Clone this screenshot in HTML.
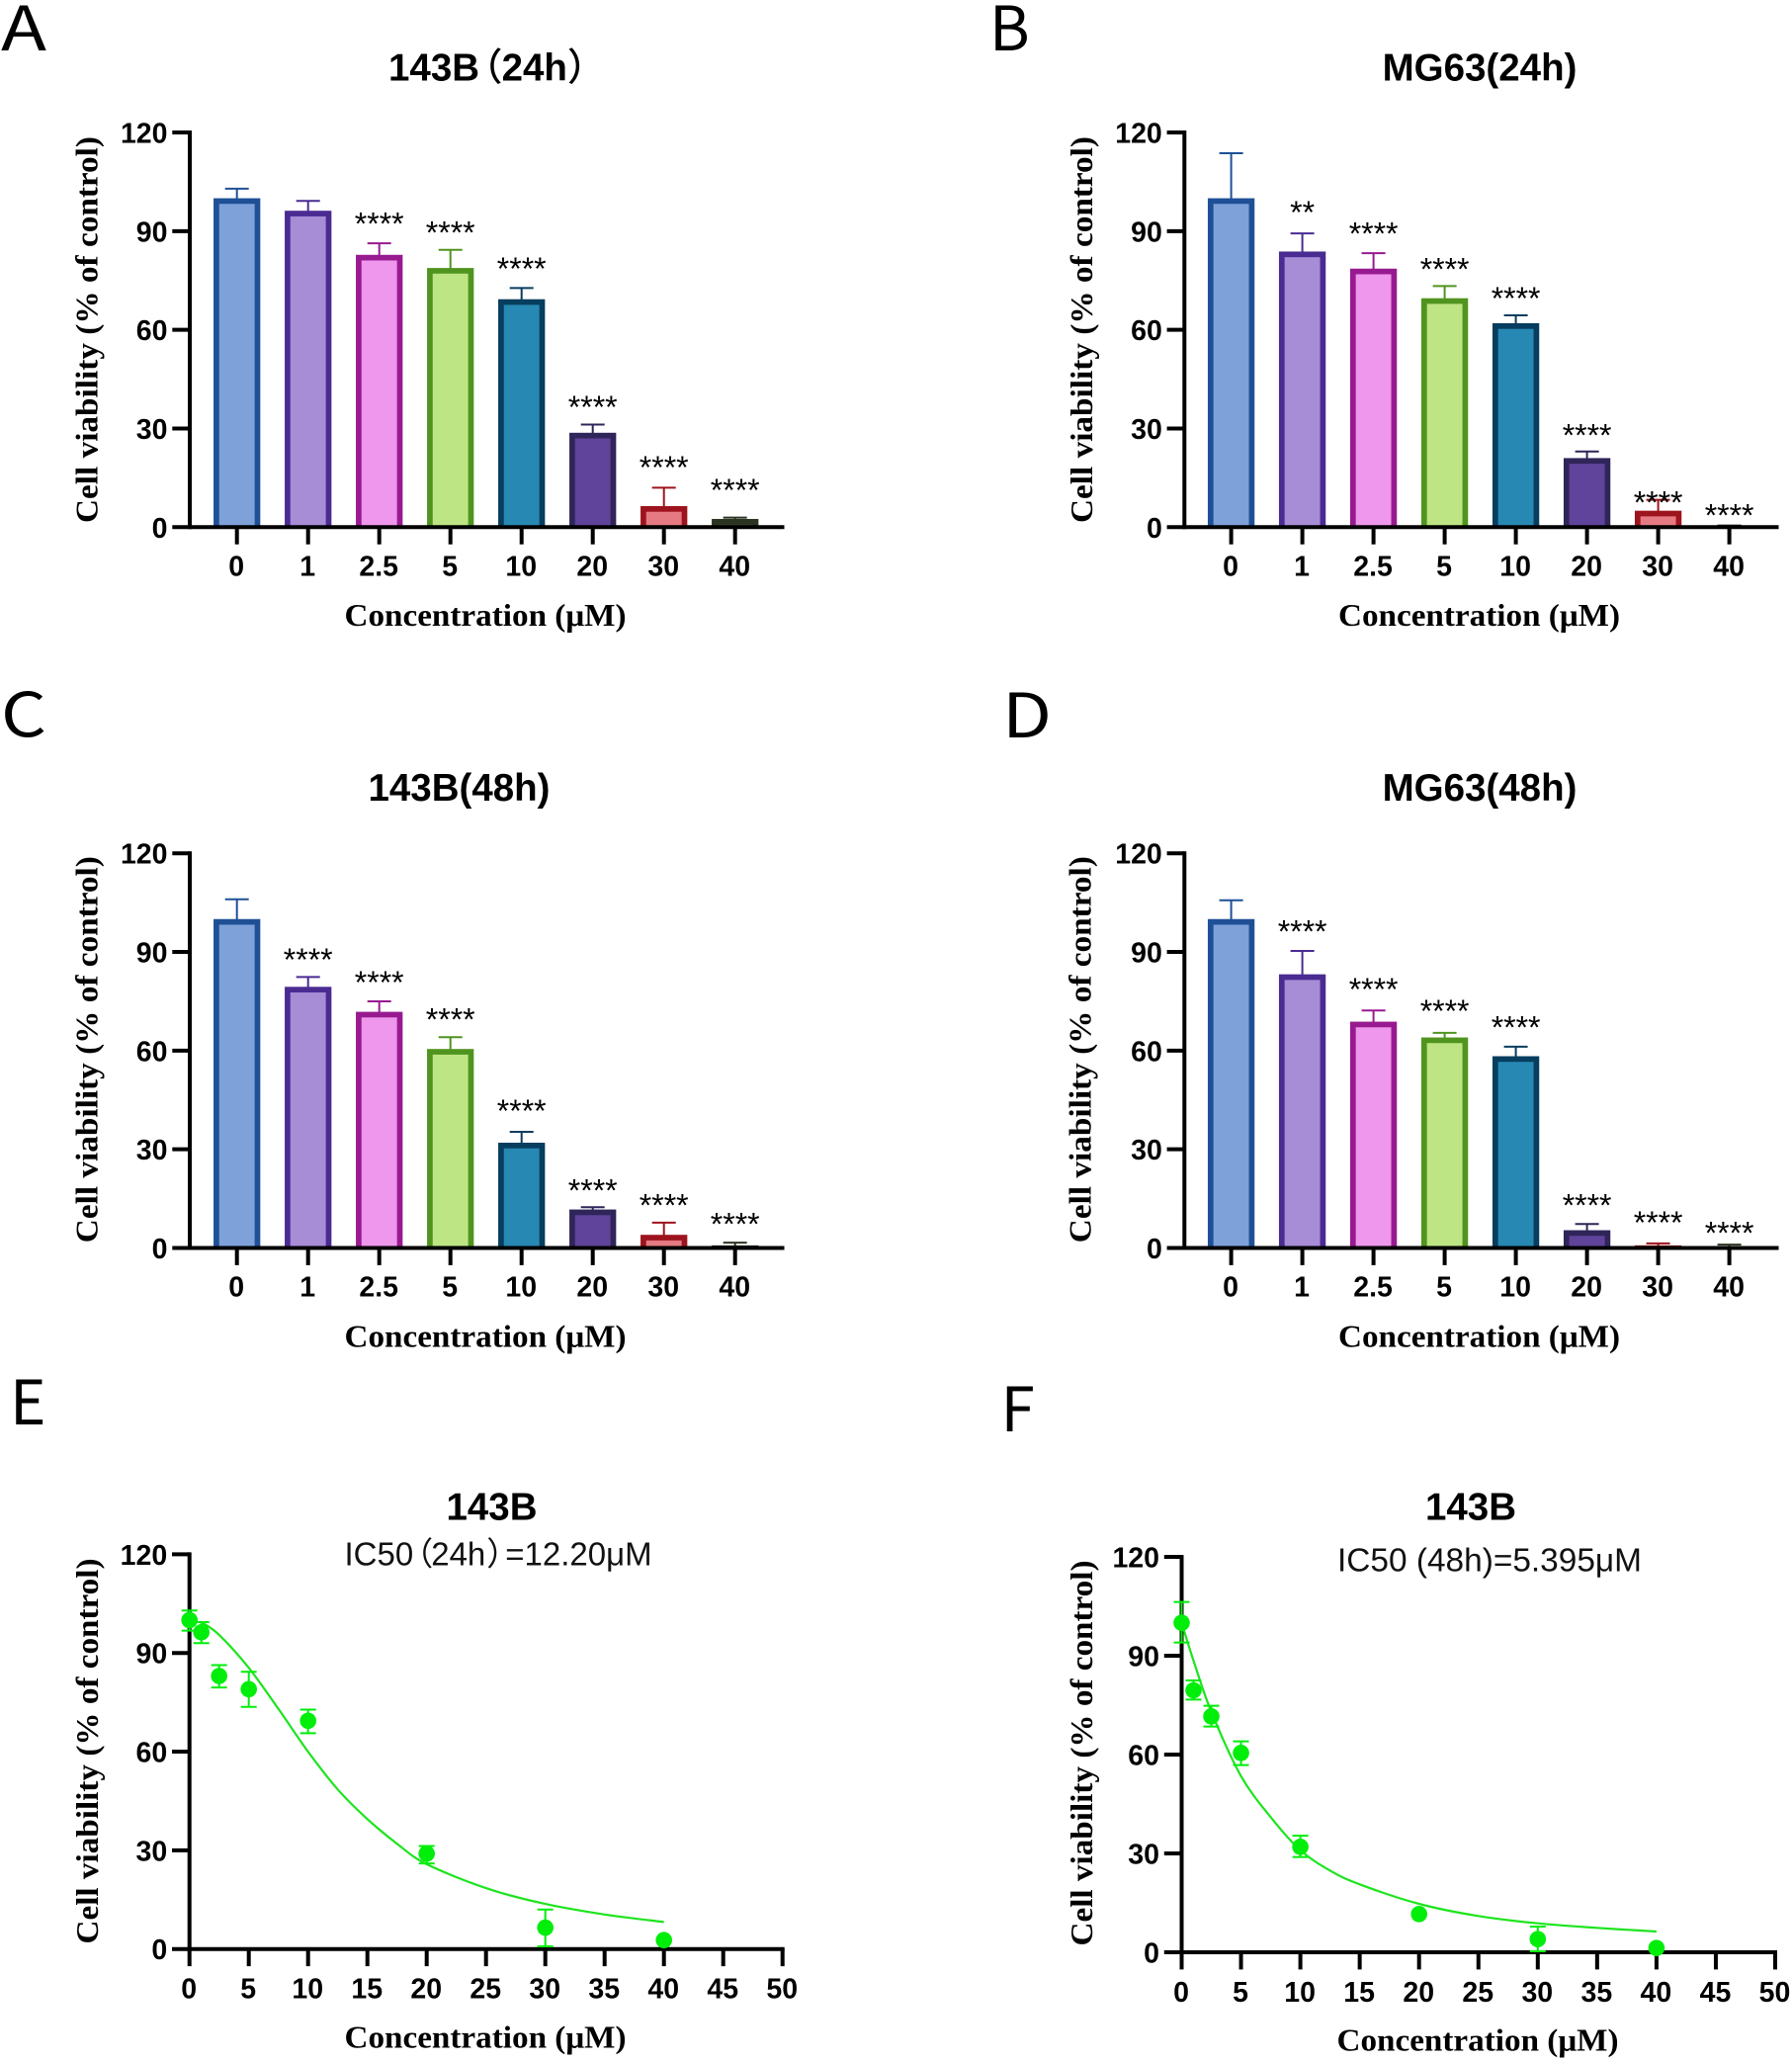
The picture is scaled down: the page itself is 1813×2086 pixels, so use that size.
<!DOCTYPE html>
<html lang="en">
<head>
<meta charset="utf-8">
<title>Cell viability panels</title>
<style>
html,body{margin:0;padding:0;background:#fff;}
svg{display:block;}
.letter{font-family:"Noto Sans CJK SC","Liberation Sans",sans-serif;font-size:62px;fill:#000;}
.title{font-family:"Liberation Sans","Noto Sans CJK SC",sans-serif;font-weight:bold;font-size:38.5px;fill:#000;text-anchor:middle;}
.sub{font-family:"Liberation Sans","Noto Sans CJK SC",sans-serif;font-size:33px;fill:#111;}
.axt{font-family:"Liberation Serif",serif;font-weight:bold;font-size:32px;fill:#000;text-anchor:middle;}
.tick{font-family:"Liberation Sans",sans-serif;font-weight:bold;font-size:28.5px;fill:#000;}
.star{font-family:"Liberation Sans",sans-serif;font-size:32px;fill:#000;text-anchor:middle;}
</style>
</head>
<body>
<svg id="fig" xmlns="http://www.w3.org/2000/svg" width="1813" height="2086" viewBox="0 0 1813 2086">
<rect width="1813" height="2086" fill="#fff"/>

<g id="panel-a">
 <text class="letter" x="1" y="50.8" textLength="46" lengthAdjust="spacingAndGlyphs">A</text>
 <text class="title" x="393" y="81.5" style="text-anchor:start">143B<tspan font-weight="500" dx="-15">（</tspan><tspan dx="-1">24h</tspan><tspan font-weight="500">）</tspan></text>
 <text class="axt" x="491" y="632.8" textLength="285" lengthAdjust="spacingAndGlyphs">Concentration (μM)</text>
 <text class="axt" transform="translate(98.5,333.5) rotate(-90)" textLength="391" lengthAdjust="spacingAndGlyphs">Cell viability (% of control)</text>
</g>
<g id="panel-b">
 <text class="letter" x="1001" y="50.8">B</text>
 <text class="title" x="1497" y="81.5">MG63(24h)</text>
 <text class="axt" x="1496.5" y="632.8" textLength="285" lengthAdjust="spacingAndGlyphs">Concentration (μM)</text>
 <text class="axt" transform="translate(1105,333.5) rotate(-90)" textLength="391" lengthAdjust="spacingAndGlyphs">Cell viability (% of control)</text>
</g>
<g id="panel-c">
 <text class="letter" x="1" y="745" textLength="46" lengthAdjust="spacingAndGlyphs">C</text>
 <text class="title" x="464.5" y="810">143B(48h)</text>
 <text class="axt" x="491" y="1362.5" textLength="285" lengthAdjust="spacingAndGlyphs">Concentration (μM)</text>
 <text class="axt" transform="translate(98.5,1061.7) rotate(-90)" textLength="391" lengthAdjust="spacingAndGlyphs">Cell viability (% of control)</text>
</g>
<g id="panel-d">
 <text class="letter" x="1014" y="746" textLength="50" lengthAdjust="spacingAndGlyphs">D</text>
 <text class="title" x="1497" y="810">MG63(48h)</text>
 <text class="axt" x="1496.5" y="1362.5" textLength="285" lengthAdjust="spacingAndGlyphs">Concentration (μM)</text>
 <text class="axt" transform="translate(1103.5,1061.7) rotate(-90)" textLength="391" lengthAdjust="spacingAndGlyphs">Cell viability (% of control)</text>
</g>
<g id="panel-e">
 <text class="letter" x="10" y="1441">E</text>
 <text class="title" x="497.5" y="1537.5">143B</text>
 <text class="sub" x="348.5" y="1583.5">IC50<tspan dx="-13">（</tspan><tspan dx="-2">24h</tspan><tspan dx="1">）</tspan><tspan dx="-14">=12.20μM</tspan></text>
 <text class="axt" x="491" y="2071.5" textLength="285" lengthAdjust="spacingAndGlyphs">Concentration (μM)</text>
 <text class="axt" transform="translate(99,1771.5) rotate(-90)" textLength="390" lengthAdjust="spacingAndGlyphs">Cell viability (% of control)</text>
</g>
<g id="panel-f">
 <text class="letter" x="1012.5" y="1448">F</text>
 <text class="title" x="1488" y="1537.5">143B</text>
 <text class="sub" x="1353" y="1589.5" textLength="308" lengthAdjust="spacingAndGlyphs">IC50 (48h)=5.395μM</text>
 <text class="axt" x="1495" y="2074.5" textLength="285" lengthAdjust="spacingAndGlyphs">Concentration (μM)</text>
 <text class="axt" transform="translate(1105,1773.5) rotate(-90)" textLength="390" lengthAdjust="spacingAndGlyphs">Cell viability (% of control)</text>
</g>
</svg>

<script>
// Shared axis data
const categories = ['0','1','2.5','5','10','20','30','40'];
const yTicks = [0,30,60,90,120];
const xTicksNum = [0,5,10,15,20,25,30,35,40,45,50];

// Panel A: 143B 24h
const aValues = [100,96.2,82.8,78.8,69.3,28.7,6.4,2.5];
const aErrTop = [102.9,99.2,86.3,84.3,72.7,31.2,12,2.9];
const aStars = ['','','****','****','****','****','****','****'];
const aStarGap = [0,0,7.2,6.6,7.2,6.6,7.5,9.7];

// Panel B: MG63 24h
const bValues = [100,83.8,78.6,69.6,62,21,5,0.3];
const bErrTop = [113.7,89.3,83.3,73.3,64.4,23,8.3,0.5];
const bStars = ['','**','****','****','****','****','****','****'];
const bStarGap = [0,7.7,7.3,6.5,6.4,6.2,0.5,4.4];

// Panel C: 143B 48h
const cValues = [100,79.4,71.8,60.5,32,11.7,4,0.8];
const cErrTop = [106,82.4,75,64.1,35.3,12.4,7.7,1.6];
const cStars = ['','****','****','****','****','****','****','****'];
const cStarGap = [0,6.6,7,6.6,7.7,6.4,6.6,6.9];

// Panel D: MG63 48h
const dValues = [100,83.2,68.8,64,58.3,5.4,0.8,0.6];
const dErrTop = [105.7,90.3,72.2,65.4,61.2,7.3,1.4,1];
const dStars = ['','****','****','****','****','****','****','****'];
const dStarGap = [0,7.2,7.8,7.9,7.2,6.9,7.6,4.9];

// Panel E: dose response 24h
const eDose = [0,1,2.5,5,10,20,30,40];
const eMean = [100,96.3,83,79,69.4,29,6.5,2.7];
const eHigh = [102.9,99.4,86.3,84.3,72.8,31.3,12,2.9];
const eLow = [96.8,93,79.5,73.6,65.6,26,0.8,2.5];
const eFitX = [1,2.5,5,7.5,10,12.5,15,17.5,20,25,30,35,40];
const eFitY = [99.4,95.5,85.5,73,60,48.5,39.5,32,25.8,18.5,13.7,10.5,8.2];

// Panel F: dose response 48h
const fDose = [0,1,2.5,5,10,20,30,40];
const fMean = [100,79.5,71.6,60.5,32,11.6,4,1.3];
const fHigh = [106.3,82.5,74.8,64,35.4,11.9,7.8,1.5];
const fLow = [94,76.7,68.5,56.8,28.9,11.3,0.3,1.1];
const fFitX = [0,1,2.5,5,7.5,10,12.5,15,20,25,30,35,40];
const fFitY = [100,88.5,73,53.5,41,31,24.8,20.6,14.7,11,8.8,7.4,6.3];

// Bar style table
const barFill = ['#7ea1d9','#a78cd6','#ee97ec','#bde584','#2788b3','#60439a','#e57a82','#3a4a2e'];
const barEdge = ['#1f5096','#4a2b92','#981a90','#50941f','#073d5e','#2f2558','#9d141e','#2b3421'];

const NS = 'http://www.w3.org/2000/svg';
function mk(parent, tag, props, txt){
  const el = document.createElementNS(NS, tag);
  for (const k in props) el.setAttribute(k, props[k]);
  if (txt !== undefined) el.textContent = txt;
  parent.appendChild(el);
  return el;
}
function yScale(y0, y120){ return v => y0 + (y120 - y0) * v / 120; }

function drawYAxis(g, ax, y, key){
  const spine = mk(g,'line',{x1:ax,x2:ax,y1:y(120)-2,y2:y(0)+2,stroke:'#000','stroke-width':4});
  
  
  yTicks.forEach(t => {
    const tk = mk(g,'line',{x1:ax-17.7,x2:ax,y1:y(t),y2:y(t),stroke:'#000','stroke-width':4});
    
    
    const lb = mk(g,'text',{class:'tick',x:ax-22.5,y:y(t)+10.5,'text-anchor':'end'},String(t));
    
    
  });
}

function drawBars(key, ax, xFirst, step, xEnd, y0, y120, values, errTop, stars, starGap){
  const g = document.getElementById('panel-' + key);
  const y = yScale(y0, y120);
  const bw = 47.3, bd = 5.7;
  const bandX = i => xFirst + step * i;
  categories.forEach((c, i) => {
    const cx = bandX(i), top = y(values[i]), h = y0 - top, ey = y(errTop[i]);
    const stem = mk(g,'line',{x1:cx,x2:cx,y1:top+1,y2:ey,stroke:barEdge[i],'stroke-width':2});
    
    
    const cap = mk(g,'line',{x1:cx-12,x2:cx+12,y1:ey,y2:ey,stroke:barEdge[i],'stroke-width':2});
    
    
    const outer = mk(g,'rect',{x:cx-bw/2,y:top,width:bw,height:h,fill:barEdge[i]});
    
    
    if (h > bd) {
      const inner = mk(g,'rect',{x:cx-bw/2+bd,y:top+bd,width:bw-2*bd,height:h-bd,fill:barFill[i]});
      
      
    }
    if (stars[i]) {
      const sy = y(errTop[i] + starGap[i]);
      const st = mk(g,'text',{class:'star',x:cx,y:sy+15.5},stars[i]);
      
      
    }
    const tk = mk(g,'line',{x1:cx,x2:cx,y1:y0,y2:y0+17.4,stroke:'#000','stroke-width':4});
    
    
    const lb = mk(g,'text',{class:'tick',x:cx-0.5,y:y0+49,'text-anchor':'middle'},c);
    
    
  });
  const base = mk(g,'line',{x1:ax,x2:xEnd,y1:y0,y2:y0,stroke:'#000','stroke-width':4});
  
  
  drawYAxis(g, ax, y, key);
}

function smoothPath(px){
  let d = 'M' + px[0][0].toFixed(1) + ' ' + px[0][1].toFixed(1);
  for (let i = 0; i < px.length - 1; i++){
    const p0 = px[Math.max(i-1,0)], p1 = px[i], p2 = px[i+1], p3 = px[Math.min(i+2,px.length-1)];
    const c1 = [p1[0]+(p2[0]-p0[0])/6, p1[1]+(p2[1]-p0[1])/6];
    const c2 = [p2[0]-(p3[0]-p1[0])/6, p2[1]-(p3[1]-p1[1])/6];
    d += ' C' + c1[0].toFixed(1)+' '+c1[1].toFixed(1)+' '+c2[0].toFixed(1)+' '+c2[1].toFixed(1)+' '+p2[0].toFixed(1)+' '+p2[1].toFixed(1);
  }
  return d;
}

function drawCurve(key, ax, xMax, y0, y120, dose, mean, high, low, fitX, fitY){
  const g = document.getElementById('panel-' + key);
  const y = yScale(y0, y120);
  const x = v => ax + (xMax - ax) * v / 50;
  const green = '#00ee0a';
  xTicksNum.forEach(t => {
    const tk = mk(g,'line',{x1:x(t),x2:x(t),y1:y0,y2:y0+17.4,stroke:'#000','stroke-width':4});
    
    
    const lb = mk(g,'text',{class:'tick',x:x(t)-0.5,y:y0+50,'text-anchor':'middle'},String(t));
    
    
  });
  const base = mk(g,'line',{x1:ax,x2:xMax+2,y1:y0,y2:y0,stroke:'#000','stroke-width':4});
  
  
  drawYAxis(g, ax, y, key);
  const fit = mk(g,'path',{d:smoothPath(fitX.map((v,i)=>[x(v),y(fitY[i])])),fill:'none',stroke:'#1ee41e','stroke-width':2.2});
  
  
  dose.forEach((d,i) => {
    const cx = x(d);
    if (high[i] - low[i] > 1) {
      const er = mk(g,'path',{d:'M'+(cx-8)+' '+y(high[i])+'H'+(cx+8)+'M'+cx+' '+y(high[i])+'V'+y(low[i])+'M'+(cx-8)+' '+y(low[i])+'H'+(cx+8),fill:'none',stroke:green,'stroke-width':2});
      
      
    }
    const dot = mk(g,'circle',{cx:cx,cy:y(mean[i]),r:8.3,fill:green});
    
    
  });
}

drawBars('a', 192, 239.7, 72, 793.5, 533.3, 134, aValues, aErrTop, aStars, aStarGap);
drawBars('b', 1198.3, 1245.6, 72, 1799.5, 533.3, 134, bValues, bErrTop, bStars, bStarGap);
drawBars('c', 192, 239.7, 72, 793.5, 1262.5, 863.2, cValues, cErrTop, cStars, cStarGap);
drawBars('d', 1198.3, 1245.6, 72, 1799.5, 1262.5, 863.2, dValues, dErrTop, dStars, dStarGap);
drawCurve('e', 191.7, 791.7, 1971.7, 1572.4, eDose, eMean, eHigh, eLow, eFitX, eFitY);
drawCurve('f', 1195.5, 1796, 1975, 1575, fDose, fMean, fHigh, fLow, fFitX, fFitY);
</script>
</body>
</html>
